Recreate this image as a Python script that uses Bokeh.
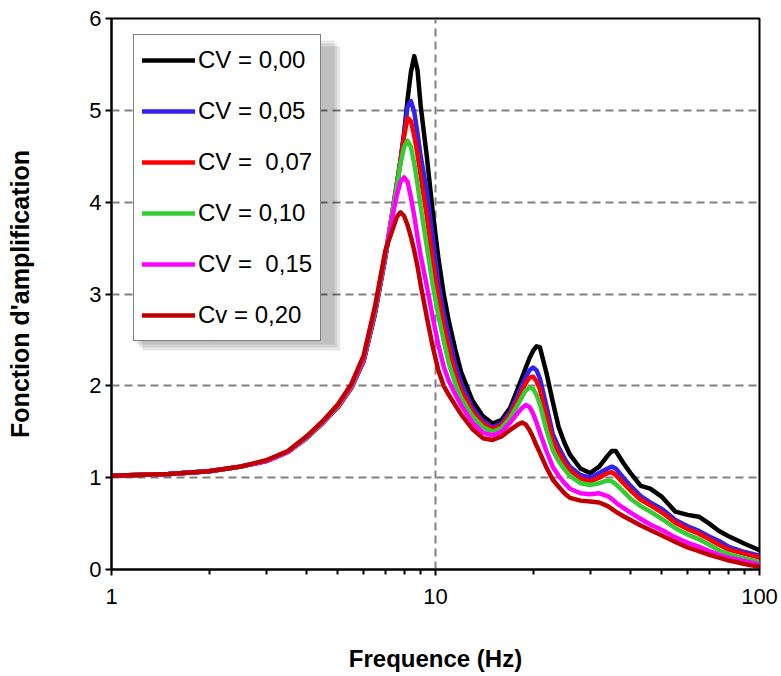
from bokeh.plotting import figure
from bokeh.models import (FixedTicker, Legend, LegendItem, BoxAnnotation,
                          NumeralTickFormatter)
from bokeh.embed import file_html
from bokeh.resources import INLINE

# ---------------- data ----------------
freq = [1, 1.5, 2, 2.5, 3, 3.5, 4, 4.5, 5, 5.5,
        6, 6.5, 7, 7.4, 7.6, 7.8, 8.0, 8.2, 8.4, 8.6,
        8.8, 9.0, 9.4, 9.8, 10.2, 10.6, 11, 11.5, 12, 13,
        14, 15, 16, 17, 18, 18.5, 19, 19.5, 20, 20.5,
        21, 22, 23, 24, 25, 26, 28, 30, 32, 34,
        35, 36, 38, 40, 43, 46, 50, 55, 60, 65,
        70, 75, 80, 90, 100]

cv_000 = [1.02, 1.04, 1.07, 1.12, 1.18, 1.28, 1.43, 1.60, 1.77, 1.98,
          2.27, 2.78, 3.40, 3.92, 4.18, 4.45, 4.75, 5.12, 5.42, 5.59,
          5.44, 5.05, 4.50, 3.90, 3.40, 3.00, 2.70, 2.40, 2.15, 1.84,
          1.67, 1.59, 1.63, 1.76, 1.98, 2.09, 2.20, 2.30, 2.38, 2.43,
          2.42, 2.14, 1.83, 1.55, 1.38, 1.25, 1.10, 1.05, 1.12, 1.24,
          1.29, 1.29, 1.16, 1.05, 0.91, 0.88, 0.79, 0.63, 0.595, 0.575,
          0.50, 0.42, 0.365, 0.28, 0.21]

cv_005 = [1.02, 1.04, 1.07, 1.12, 1.18, 1.28, 1.43, 1.60, 1.77, 1.98,
          2.27, 2.79, 3.40, 3.95, 4.21, 4.46, 4.74, 5.04, 5.10, 4.98,
          4.75, 4.50, 4.12, 3.62, 3.12, 2.80, 2.53, 2.24, 2.03, 1.76,
          1.62, 1.55, 1.59, 1.72, 1.91, 2.01, 2.10, 2.17, 2.20, 2.17,
          2.08, 1.78, 1.48, 1.33, 1.21, 1.12, 1.03, 1.00, 1.05, 1.10,
          1.12, 1.10, 1.00, 0.91, 0.80, 0.73, 0.66, 0.54, 0.47, 0.42,
          0.36, 0.31, 0.25, 0.19, 0.15]

cv_007 = [1.02, 1.04, 1.07, 1.12, 1.18, 1.28, 1.43, 1.60, 1.77, 1.98,
          2.28, 2.80, 3.41, 3.94, 4.20, 4.45, 4.72, 4.92, 4.88, 4.72,
          4.52, 4.28, 3.85, 3.36, 2.97, 2.66, 2.41, 2.13, 1.95, 1.72,
          1.59, 1.53, 1.57, 1.69, 1.86, 1.95, 2.03, 2.09, 2.10, 2.05,
          1.96, 1.67, 1.41, 1.27, 1.16, 1.08, 0.99, 0.96, 1.00, 1.05,
          1.06, 1.03, 0.94, 0.86, 0.76, 0.70, 0.62, 0.51, 0.44, 0.39,
          0.33, 0.27, 0.22, 0.17, 0.13]

cv_010 = [1.02, 1.04, 1.07, 1.12, 1.18, 1.28, 1.43, 1.60, 1.78, 1.99,
          2.29, 2.81, 3.42, 3.93, 4.18, 4.42, 4.60, 4.67, 4.60, 4.42,
          4.20, 3.95, 3.52, 3.10, 2.77, 2.49, 2.24, 2.03, 1.87, 1.67,
          1.55, 1.50, 1.54, 1.65, 1.80, 1.88, 1.95, 1.98, 1.97, 1.90,
          1.80, 1.52, 1.30, 1.18, 1.09, 1.02, 0.94, 0.92, 0.94, 0.97,
          0.96, 0.93, 0.85, 0.77, 0.69, 0.63, 0.55, 0.45, 0.38, 0.33,
          0.27, 0.21, 0.17, 0.12, 0.08]

cv_015 = [1.02, 1.04, 1.07, 1.12, 1.18, 1.28, 1.44, 1.61, 1.79, 2.00,
          2.30, 2.83, 3.44, 3.88, 4.08, 4.22, 4.27, 4.22, 4.05, 3.85,
          3.62, 3.42, 3.09, 2.75, 2.45, 2.21, 2.05, 1.91, 1.79, 1.60,
          1.49, 1.46, 1.50, 1.60, 1.71, 1.76, 1.79, 1.77, 1.70, 1.60,
          1.49, 1.29, 1.12, 1.02, 0.94, 0.88, 0.83, 0.82, 0.83, 0.80,
          0.77, 0.73, 0.67, 0.62, 0.55, 0.49, 0.43, 0.35, 0.29, 0.25,
          0.20, 0.16, 0.13, 0.09, 0.055]

cv_020 = [1.02, 1.04, 1.07, 1.12, 1.19, 1.29, 1.45, 1.62, 1.80, 2.02,
          2.33, 2.86, 3.47, 3.72, 3.84, 3.89, 3.85, 3.75, 3.62, 3.47,
          3.30, 3.10, 2.75, 2.43, 2.17, 2.00, 1.90, 1.79, 1.69, 1.53,
          1.43, 1.41, 1.45, 1.52, 1.58, 1.60, 1.58, 1.52, 1.44, 1.35,
          1.27, 1.11, 0.98, 0.90, 0.83, 0.78, 0.75, 0.74, 0.73, 0.69,
          0.66, 0.63, 0.58, 0.54, 0.48, 0.43, 0.37, 0.30, 0.24, 0.20,
          0.16, 0.13, 0.10, 0.06, 0.03]

labels = ["CV = 0,00", "CV = 0,05", "CV =  0,07", "CV = 0,10", "CV =  0,15", "Cv = 0,20"]
colors = ["#000000", "#3322EE", "#FF0000", "#33CC33", "#FF00FF", "#C00000"]
series = [cv_000, cv_005, cv_007, cv_010, cv_015, cv_020]

x_ticks = [1, 10, 100]
x_minor = [2, 3, 4, 5, 6, 7, 8, 9, 20, 30, 40, 50, 60, 70, 80, 90]
y_ticks = [0, 1, 2, 3, 4, 5, 6]

FONT = "Liberation Sans"

# ---------------- figure ----------------
p = figure(width=781, height=676, x_axis_type="log", x_range=(1, 100), y_range=(0, 6),
           output_backend="svg", toolbar_location=None,
           min_border_left=111, min_border_right=22, min_border_top=18, min_border_bottom=107)
p.background_fill_color = "white"
p.border_fill_color = "white"
p.outline_line_color = "black"
p.outline_line_width = 2

# axes
p.xaxis.ticker = FixedTicker(ticks=x_ticks, minor_ticks=x_minor)
p.xaxis.formatter = NumeralTickFormatter(format="0")
p.yaxis.ticker = FixedTicker(ticks=y_ticks)
for ax in (p.xaxis, p.yaxis):
    ax.axis_line_color = "black"
    ax.axis_line_width = 2
    ax.major_tick_line_color = "black"
    ax.major_tick_line_width = 2
    ax.major_tick_in = 0
    ax.major_tick_out = 6
    ax.major_label_text_font = FONT
    ax.major_label_text_font_size = "22px"
    ax.major_label_text_color = "black"
    ax.axis_label_text_font = FONT
    ax.axis_label_text_font_style = "bold"
    ax.axis_label_text_color = "black"
p.xaxis.axis_label_text_font_size = "24px"
p.yaxis.axis_label_text_font_size = "25px"
p.xaxis.minor_tick_line_color = "black"
p.xaxis.minor_tick_line_width = 2
p.xaxis.minor_tick_in = 0
p.xaxis.minor_tick_out = 5
p.yaxis.minor_tick_line_color = None
p.xaxis.major_label_standoff = 13
p.yaxis.major_label_standoff = 4
p.xaxis.axis_label = "Frequence (Hz)"
p.yaxis.axis_label = "Fonction d'amplification"
p.xaxis.axis_label_standoff = 38
p.yaxis.axis_label_standoff = 52

# grid
for g in (p.xgrid, p.ygrid):
    g.grid_line_color = "#808080"
    g.grid_line_width = 2
    g.grid_line_dash = "8 5"
p.xgrid.minor_grid_line_color = None

# curves
items = []
for lab, col, ys in zip(labels, colors, series):
    r = p.line(freq, ys, line_color=col, line_width=4.5, line_join="round", line_cap="round")
    items.append(LegendItem(label=lab, renderers=[r]))

# legend shadow (soft grey, offset to the lower right)
for (l, rr, t, b) in [(1.194, 4.88, 5.761, 2.450), (1.220, 4.98, 5.728, 2.418), (1.246, 5.09, 5.695, 2.385)]:
    p.add_layout(BoxAnnotation(left=l, right=rr, top=t, bottom=b, fill_color="black",
                               fill_alpha=0.09, line_color=None))

legend = Legend(items=items, location=(22, 228), margin=0, padding=8, spacing=17,
                glyph_width=53, glyph_height=34, label_height=34, label_standoff=3,
                label_text_font=FONT, label_text_font_size="24px", label_text_color="black",
                border_line_color="black", border_line_width=1.5,
                background_fill_color="white", background_fill_alpha=1.0)
p.add_layout(legend, "center")

open("out.html", "w").write(file_html(p, INLINE, title="Fonction d'amplification"))
